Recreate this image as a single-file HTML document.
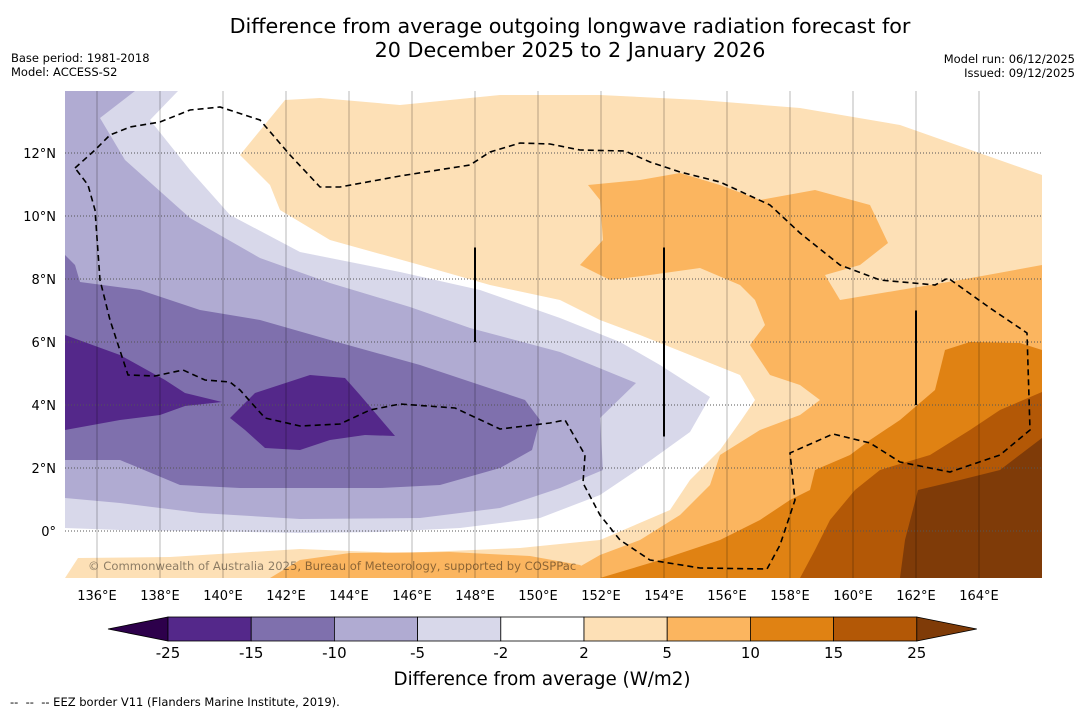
<!DOCTYPE html>
<html><head><meta charset="utf-8">
<style>
body{margin:0;background:#fff;font-family:"DejaVu Sans","Liberation Sans",sans-serif;}
#wrap{position:relative;width:1085px;height:713px;overflow:hidden;background:#fff;}
.t{position:absolute;white-space:nowrap;color:#000;}
</style></head>
<body>
<div id="wrap">
<div class="t" style="left:0;width:1140px;text-align:center;top:14px;font-size:20.7px;line-height:24px;">Difference from average outgoing longwave radiation forecast for<br>20 December 2025 to 2 January 2026</div>
<div class="t" style="left:11px;top:51px;font-size:11.5px;line-height:14px;">Base period: 1981-2018<br>Model: ACCESS-S2</div>
<div class="t" style="right:10px;top:52px;font-size:11.5px;line-height:14px;text-align:right;">Model run: 06/12/2025<br>Issued: 09/12/2025</div>
<svg id="svg" width="1085" height="713" style="position:absolute;left:0;top:0"></svg>
<div class="t" style="left:10px;top:695px;font-size:11.5px;">-- &nbsp;-- &nbsp;-- EEZ border V11 (Flanders Marine Institute, 2019).</div>
</div>
<script>
const lonTicks=[136,138,140,142,144,146,148,150,152,154,156,158,160,162,164];
const latTicks=[0,2,4,6,8,10,12];
const levelLabels=["-25","-15","-10","-5","-2","2","5","10","15","25"];
const levelColors=["#54288a","#7f70ad","#b0abd2","#d8d8ea","#ffffff","#fde0b6","#fbb55f","#e08213","#b35806"];
const lowColor="#2d004b", highColor="#7f3b08";
const FONT="DejaVu Sans, Liberation Sans, sans-serif";
const NS="http://www.w3.org/2000/svg";
const svg=document.getElementById('svg');
const X0=65,X1=1042,Y0=91,Y1=578;
function xLon(l){return 97+(l-136)*31.5;}
function yLat(l){return 531-l*31.5;}
function mk(tag,attrs,parent){const e=document.createElementNS(NS,tag);for(const k in attrs)e.setAttribute(k,attrs[k]);(parent||svg).appendChild(e);return e;}
const defs=mk('defs',{});const cp=mk('clipPath',{id:'mc'},defs);mk('rect',{x:X0,y:Y0,width:X1-X0,height:Y1-Y0},cp);
const g=mk('g',{'clip-path':'url(#mc)'});


const fills=[
["#d8d8ea","M65,91 L178,91 L150,120 L190,170 L230,215 L300,252 L400,272 L480,290 L560,318 L620,342 L660,365 L710,397 L690,432 L640,468 L600,495 L540,518 L460,528 L380,532 L300,533 L200,531 L120,530 L65,528 Z","band-minus5"],
["#b0abd2","M65,91 L135,91 L100,118 L125,160 L190,218 L260,258 L330,283 L410,307 L470,328 L560,352 L636,383 L600,418 L603,470 L560,488 L500,508 L420,518 L300,519 L200,513 L120,503 L65,498 Z","band-minus10"],
["#7f70ad","M65,255 L75,265 L80,282 L140,290 L200,310 L260,320 L330,340 L420,365 L480,385 L525,400 L540,420 L532,450 L500,468 L440,485 L380,488 L330,488 L240,488 L180,485 L120,460 L65,460 Z","band-minus15"],
["#54288a","M65,335 L120,355 L165,380 L185,393 L222,402 L185,406 L160,415 L120,420 L65,430 Z","band-minus25-west"],
["#54288a","M230,418 L255,393 L310,375 L345,378 L360,395 L395,436 L365,435 L330,440 L300,450 L265,448 L245,430 Z","band-minus25-central"],
["#fde0b6","M240,155 L285,100 L320,98 L400,105 L450,100 L500,95 L600,95 L700,100 L800,108 L900,125 L1042,175 L1042,578 L520,578 L505,578 L560,560 L600,540 L670,510 L690,480 L720,450 L740,422 L755,400 L740,375 L690,355 L640,335 L600,320 L560,300 L490,285 L420,265 L330,240 L280,210 L270,185 Z","band-plus2"],
["#fde0b6","M65,578 L78,558 L170,557 L300,549 L400,553 L520,548 L600,540 L620,578 Z","band-plus2-south"],
["#fbb55f","M588,185 L640,180 L680,173 L720,185 L760,200 L815,190 L870,205 L888,243 L860,265 L825,275 L840,300 L900,290 L960,280 L1042,265 L1042,578 L560,578 L600,555 L640,540 L680,515 L710,485 L720,455 L760,430 L800,415 L820,400 L800,385 L770,375 L750,345 L765,325 L755,300 L740,285 L700,268 L650,275 L610,280 L580,265 L603,240 L600,200 Z","band-plus5"],
["#fbb55f","M270,578 L300,560 L350,553 L450,552 L530,556 L580,565 L600,578 Z","band-plus5-south"],
["#e08213","M1042,350 L1020,343 L970,342 L945,350 L935,390 L900,420 L870,440 L850,455 L815,470 L810,490 L790,500 L760,520 L720,540 L660,560 L600,578 L1042,578 Z","band-plus10"],
["#b35806","M1042,392 L1000,410 L970,430 L930,455 L880,470 L855,490 L830,520 L815,550 L800,578 L1042,578 Z","band-plus15"],
["#7f3b08","M1042,438 L1000,470 L960,480 L918,490 L905,540 L900,578 L1042,578 Z","band-plus25"]
];
fills.forEach(f=>{const p=mk('path',{d:f[1],fill:f[0],stroke:'none'},g);

});
lonTicks.forEach(l=>{const ln=mk('line',{x1:xLon(l),x2:xLon(l),y1:Y0,y2:Y1,stroke:'#000','stroke-opacity':0.28,'stroke-width':1},g);

});
latTicks.forEach(l=>{const ln=mk('line',{x1:X0,x2:X1,y1:yLat(l),y2:yLat(l),stroke:'#555','stroke-width':1,'stroke-dasharray':'1,2'},g);

});
const eez=mk('path',{d:"M75,168 L95,150 L110,135 L130,127 L160,122 L190,110 L220,107 L260,120 L290,155 L320,187 L340,187 L400,176 L470,165 L490,152 L520,143 L550,144 L580,150 L625,151 L650,162 L680,172 L720,182 L770,205 L800,233 L840,265 L880,280 L935,285 L948,278 L990,308 L1027,333 L1030,430 L1000,455 L950,472 L900,462 L870,443 L833,434 L790,453 L795,500 L780,545 L767,569 L700,568 L650,560 L620,540 L600,515 L583,483 L585,455 L565,420 L550,423 L500,429 L455,408 L400,404 L370,410 L340,424 L300,426 L265,418 L240,390 L230,382 L205,380 L183,370 L155,376 L128,375 L110,320 L100,280 L95,210 L88,185 Z",fill:'none',stroke:'#000','stroke-width':1.6,'stroke-dasharray':'6,4'},g);


[[148,6,9],[154,3,9],[162,4,7]].forEach(s=>{const ln=mk('line',{x1:xLon(s[0]),x2:xLon(s[0]),y1:yLat(s[2]),y2:yLat(s[1]),stroke:'#000','stroke-width':2},g);

});
const cr=mk('text',{x:88,y:570,'font-size':11.6,fill:'#000','fill-opacity':0.45,'font-family':FONT},g);
cr.textContent="© Commonwealth of Australia 2025, Bureau of Meteorology, supported by COSPPac";


lonTicks.forEach(l=>{const t=mk('text',{x:xLon(l),y:600,'font-size':13,'text-anchor':'middle','font-family':FONT});t.textContent=l+"°E";

});
latTicks.forEach(l=>{const t=mk('text',{x:56,y:yLat(l)+5,'font-size':13,'text-anchor':'end','font-family':FONT});t.textContent=l===0?"0°":l+"°N";

});
const cbX0=168,cbW=83.2,cbY=617,cbH=24;
const lt=mk('polygon',{points:`108,${cbY+cbH/2} ${cbX0},${cbY} ${cbX0},${cbY+cbH}`,fill:lowColor,stroke:'#000','stroke-width':0.8});


levelColors.forEach((c,i)=>{const r=mk('rect',{x:cbX0+i*cbW,y:cbY,width:cbW,height:cbH,fill:c,stroke:'#000','stroke-width':0.8});

});
const xEnd=cbX0+levelColors.length*cbW;
const rt=mk('polygon',{points:`${xEnd},${cbY} ${xEnd+60},${cbY+cbH/2} ${xEnd},${cbY+cbH}`,fill:highColor,stroke:'#000','stroke-width':0.8});


levelLabels.forEach((s,i)=>{const t=mk('text',{x:cbX0+i*cbW,y:658,'font-size':15,'text-anchor':'middle','font-family':FONT});t.textContent=s;

});
const ct=mk('text',{x:542,y:685,'font-size':18.3,'text-anchor':'middle','font-family':FONT});ct.textContent="Difference from average (W/m2)";


</script>
</body></html>
